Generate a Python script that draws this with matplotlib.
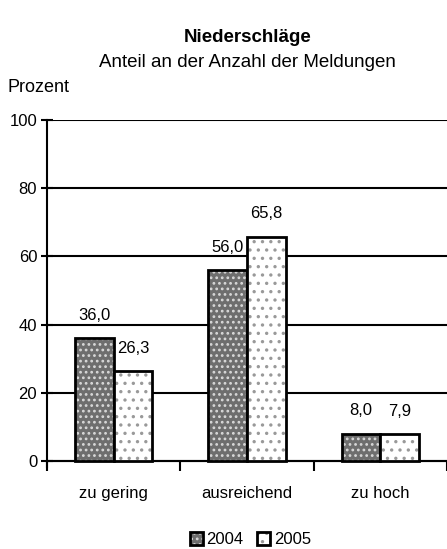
import numpy as np
import matplotlib
matplotlib.use("Agg")
import matplotlib.pyplot as plt

plt.rcParams['font.family'] = ['Liberation Sans', 'DejaVu Sans']
plt.rcParams['hatch.linewidth'] = 1.2

kategorien = ['zu gering', 'ausreichend', 'zu hoch']
jahre = ['2004', '2005']
werte_2004 = [36.0, 56.0, 8.0]
werte_2005 = [26.3, 65.8, 7.9]
y_ticks = [0, 20, 40, 60, 80, 100]

fig = plt.figure(figsize=(4.47, 5.49), dpi=100)
ax = fig.add_axes([0.105, 0.1494, 0.895, 0.632])

# Achsen zuerst, sonst setzt set_position die Ticks zurueck
for s in ['top', 'right']:
    ax.spines[s].set_visible(False)
ax.spines['left'].set_linewidth(1.5)
ax.spines['bottom'].set_linewidth(1.5)
ax.spines['bottom'].set_position(('data', 0))

x = np.arange(len(kategorien))
w = 0.29

b1 = ax.bar(x - w / 2, werte_2004, w, facecolor='#6e6e6e', edgecolor='black',
            linewidth=2, hatch='...', zorder=3)
b2 = ax.bar(x + w / 2, werte_2005, w, facecolor='white', edgecolor='black',
            linewidth=2, hatch='..', zorder=3)
for r in b1:
    r._hatch_color = (0.85, 0.85, 0.85, 1)
for r in b2:
    r._hatch_color = (0.6, 0.6, 0.6, 1)

for bars, vals in [(b1, werte_2004), (b2, werte_2005)]:
    for r, v in zip(bars, vals):
        ax.annotate(f'{v:.1f}'.replace('.', ','), (r.get_x() + r.get_width() / 2, v),
                    xytext=(0, 11), textcoords='offset points', ha='center', va='bottom',
                    fontsize=12)

ax.set_xlim(-0.5, 2.5)
ax.set_ylim(-1.8, 100)
ax.set_yticks(y_ticks)
ax.tick_params(axis='y', labelsize=12, length=8, width=1.5, direction='inout', pad=3)
ax.yaxis.grid(True, color='black', linewidth=1.5, zorder=0)
ax.set_axisbelow(True)

ax.set_xticks([-0.5, 0.5, 1.5, 2.5])
ax.set_xticklabels([])
ax.set_xticks(x, minor=True)
ax.set_xticklabels(kategorien, minor=True, fontsize=12)
ax.tick_params(axis='x', which='major', length=7, width=1.5, direction='out')
ax.tick_params(axis='x', which='minor', length=0, pad=18, labelsize=12)

fig.text(0.553, 0.931, 'Niederschläge', ha='center', va='center', fontsize=13.5, fontweight='bold')
fig.text(0.553, 0.887, 'Anteil an der Anzahl der Meldungen', ha='center', va='center', fontsize=13.5)
fig.text(0.016, 0.840, 'Prozent', ha='left', va='center', fontsize=13)

leg = fig.legend([b1[0], b2[0]], jahre, loc='center', bbox_to_anchor=(0.56, 0.017),
                 ncol=2, frameon=False, fontsize=12, handlelength=0.8, handleheight=0.8,
                 handletextpad=0.2, columnspacing=0.8)

fig.savefig('out.png', dpi=100)
